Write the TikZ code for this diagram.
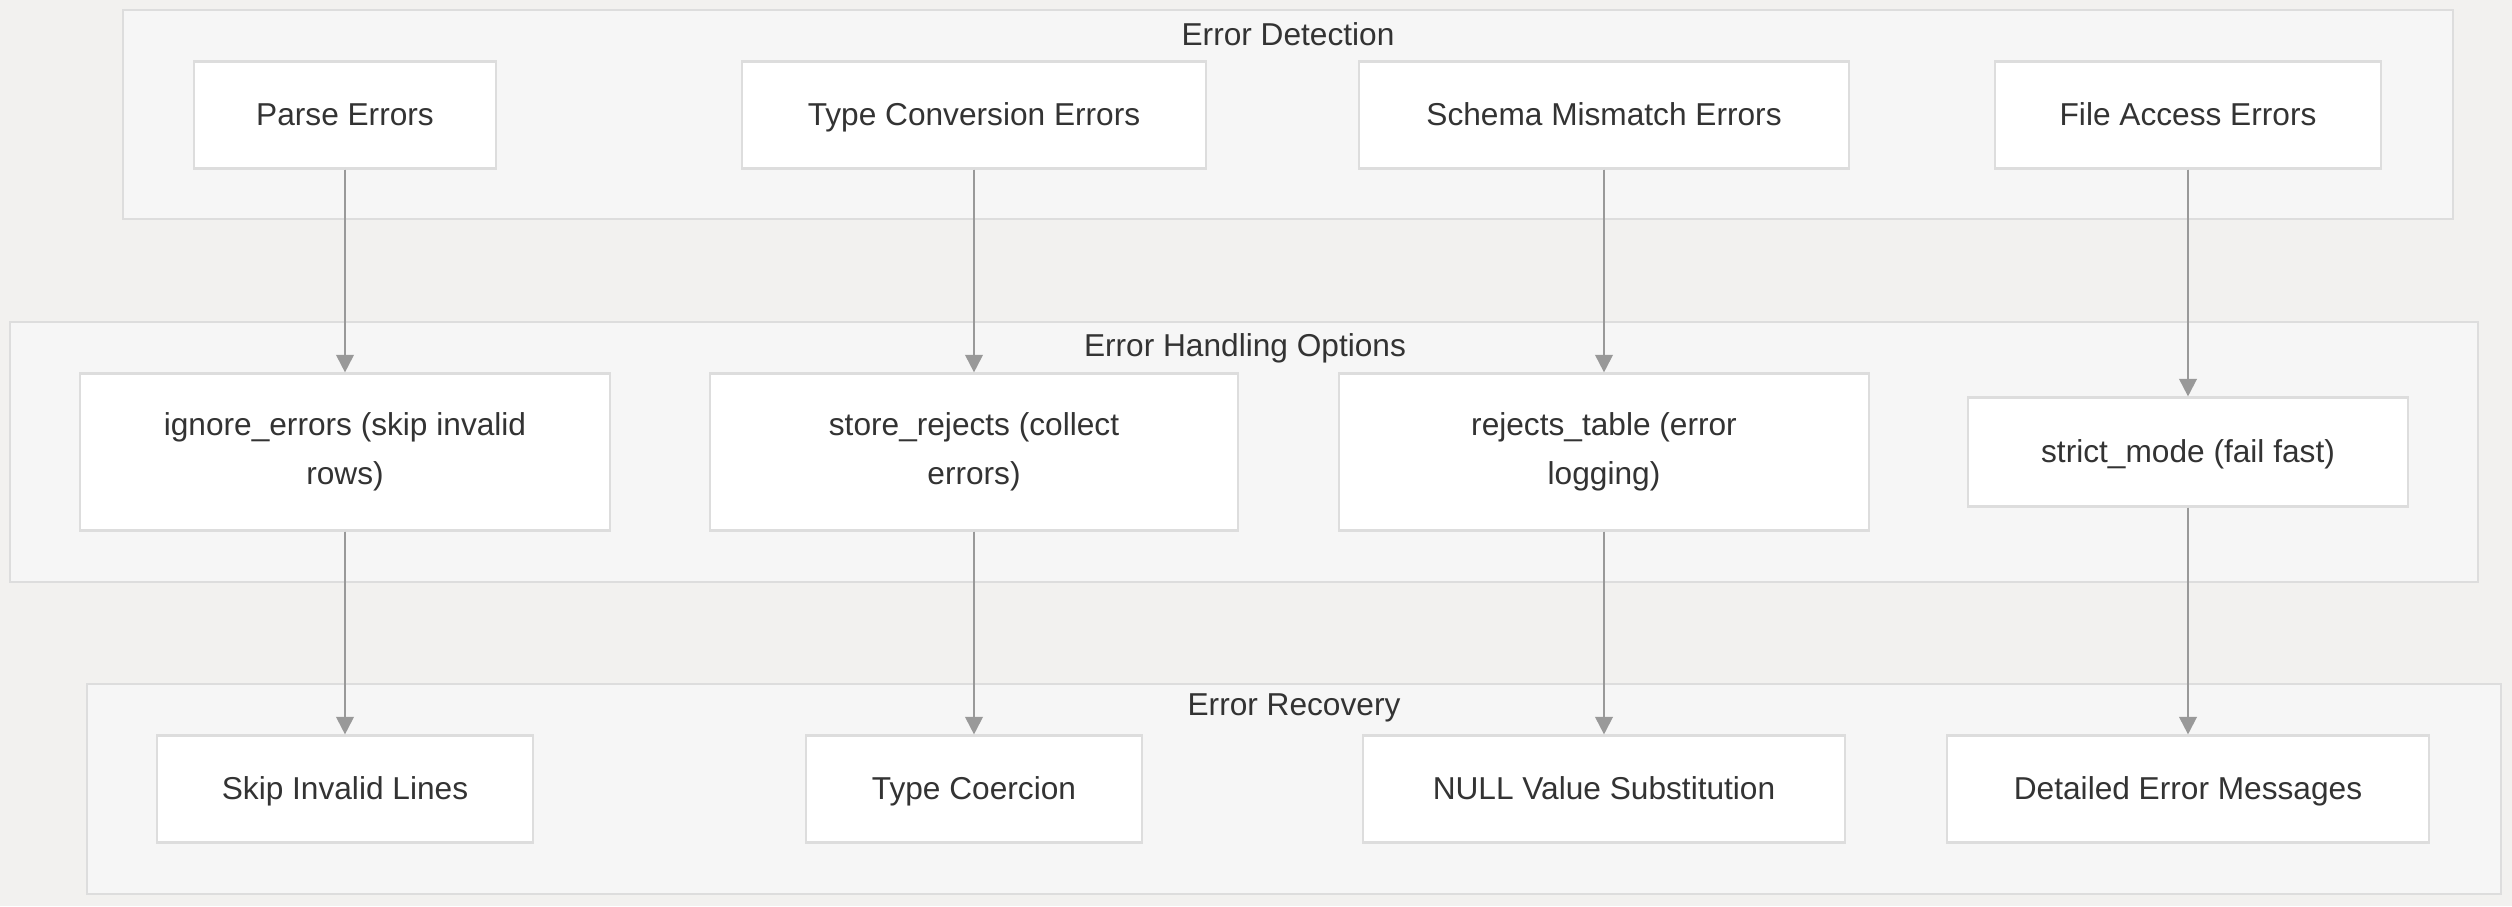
\documentclass[tikz,border=0pt]{standalone}
\usepackage{fontspec}
\setmainfont{Liberation Sans}
\usetikzlibrary{arrows.meta}
\definecolor{pagebg}{HTML}{F2F1EF}
\definecolor{groupbg}{HTML}{F6F6F6}
\definecolor{edgegray}{HTML}{DDDDDD}
\definecolor{arrowgray}{HTML}{999999}
\definecolor{inkgray}{HTML}{333333}

\begin{document}
\begin{tikzpicture}[x=0.01cm,y=-0.01cm,
    font=\fontsize{9}{14}\selectfont,text=inkgray,
    >={Triangle[length=5pt,width=5pt]},
    group/.style={draw=edgegray,fill=groupbg,line width=0.6pt},
    grouptitle/.style={inner sep=0pt},
    box/.style={draw=edgegray,fill=white,line width=0.6pt,align=center,
        minimum height=1.07cm,inner sep=0pt,text height=1.6ex,text depth=0.5ex},
    tall/.style={minimum height=1.57cm,text height=,text depth=},
    flow/.style={->,draw=arrowgray,fill=arrowgray,line width=0.6pt}]
    \fill[pagebg] (0,0) rectangle (2512,906);
    \useasboundingbox (0,0) rectangle (2512,906);

    \draw[group] (123,10) rectangle (2453,219);
    \node[grouptitle] (detect) at (1288,34) {Error Detection};
    \draw[group] (10,322) rectangle (2478,582);
    \node[grouptitle] (handle) at (1245,348) {Error Handling Options};
    \draw[group] (87,684) rectangle (2501,894);
    \node[grouptitle] (recover) at (1294,708) {Error Recovery};

    \node[box,minimum width=3.01cm] (parse) at (345,115) {Parse Errors};
    \node[box,minimum width=4.64cm] (typeconv) at (974,115) {Type Conversion Errors};
    \node[box,minimum width=4.90cm] (schema) at (1604,115) {Schema Mismatch Errors};
    \node[box,minimum width=3.85cm] (fileacc) at (2188,115) {File Access Errors};

    \node[box,tall,minimum width=5.29cm] (ignore) at (345,452)
        {ignore\_errors (skip invalid\\rows)};
    \node[box,tall,minimum width=5.28cm] (storerej) at (974,452)
        {store\_rejects (collect\\errors)};
    \node[box,tall,minimum width=5.29cm] (rejtab) at (1604,452)
        {rejects\_table (error\\logging)};
    \node[box,minimum width=4.39cm,minimum height=1.09cm] (strict) at (2188,452)
        {strict\_mode (fail fast)};

    \node[box,minimum width=3.75cm] (skip) at (345,789) {Skip Invalid Lines};
    \node[box,minimum width=3.35cm] (coerce) at (974,789) {Type Coercion};
    \node[box,minimum width=4.81cm] (nullsub) at (1604,789) {NULL Value Substitution};
    \node[box,minimum width=4.82cm] (detail) at (2188,789) {Detailed Error Messages};

    \foreach \a/\b in {parse/ignore,typeconv/storerej,schema/rejtab,fileacc/strict,
        ignore/skip,storerej/coerce,rejtab/nullsub,strict/detail}{
        \draw[flow] (\a.south) -- (\b.north);
    }
\end{tikzpicture}
\end{document}
